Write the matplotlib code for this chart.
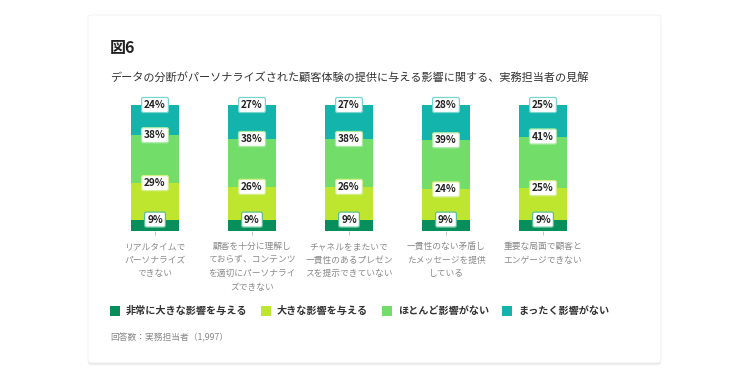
import numpy as np
import matplotlib.pyplot as plt
from matplotlib.patches import FancyBboxPatch, Rectangle

plt.rcParams['font.family'] = ['Noto Sans CJK JP', 'DejaVu Sans']

categories = [
    "リアルタイムで\nパーソナライズ\nできない",
    "顧客を十分に理解し\nておらず、コンテンツ\nを適切にパーソナライ\nズできない",
    "チャネルをまたいで\n一貫性のあるプレゼン\nスを提示できていない",
    "一貫性のない矛盾し\nたメッセージを提供\nしている",
    "重要な局面で顧客と\nエンゲージできない",
]
series_names = ["非常に大きな影響を与える", "大きな影響を与える", "ほとんど影響がない", "まったく影響がない"]
very_large = [9, 9, 9, 9, 9]
large = [29, 26, 26, 24, 25]
little = [38, 38, 38, 39, 41]
none_at_all = [24, 27, 27, 28, 25]

colors = ["#068F5B", "#BEE62F", "#72DD69", "#12B4AC"]
edge_colors = ["#5DBE95", "#D5EE86", "#A6EAA1", "#78D6D0"]

W, H = 750, 379
fig = plt.figure(figsize=(W / 100, H / 100), dpi=100)
fig.patch.set_facecolor("white")

# card with faint shadow
for i, a in enumerate([0.025, 0.035, 0.05]):
    off = 3 - i
    fig.patches.append(FancyBboxPatch((88 / W, (H - 364 - off + 1) / H), 573 / W, 348 / H,
                                      boxstyle="round,pad=0,rounding_size=0.006",
                                      transform=fig.transFigure, facecolor="black",
                                      edgecolor="none", alpha=a, zorder=-3))
fig.patches.append(FancyBboxPatch((88 / W, (H - 363) / H), 573 / W, 348 / H,
                                  boxstyle="round,pad=0,rounding_size=0.006",
                                  transform=fig.transFigure, facecolor="white",
                                  edgecolor="#EFEFEF", linewidth=0.6, zorder=-2))

# axes placement in pixels
left_px, right_px = 107, 590
top_px, bot_px = 105, 231
spacing = 97.0
c0 = 155.0
ax = fig.add_axes([left_px / W, (H - bot_px) / H, (right_px - left_px) / W, (bot_px - top_px) / H])
ax.set_xlim((left_px - c0) / spacing, (right_px - c0) / spacing)
ax.set_ylim(0, 100)
ax.patch.set_alpha(0)
for s in ax.spines.values():
    s.set_visible(False)

x = np.arange(len(categories))
series = [very_large, large, little, none_at_all]
bottom = np.zeros(len(categories))
bw = 48 / spacing
for vals, col, ec in zip(series, colors, edge_colors):
    vals = np.array(vals, dtype=float)
    ax.bar(x, vals, bottom=bottom, width=bw, color=col, edgecolor="none", zorder=2)
    bottom = bottom + vals
    for xi, yi, v in zip(x, bottom, vals):
        ax.text(xi, yi, f"{int(v)}%", ha="center", va="center", fontsize=7.3, fontweight="bold",
                color="#222222", zorder=5, clip_on=False,
                bbox=dict(boxstyle="round,pad=0.25,rounding_size=0.18", facecolor="white",
                          edgecolor=ec, linewidth=0.9))

ax.set_yticks([])
ax.set_xticks(x)
ax.set_xticklabels(categories, fontsize=6.3, color="#8A8A8A", linespacing=1.65, va="top")
ax.tick_params(axis="x", length=3, width=0.6, color="#BBBBBB", pad=5)

fig.text(110 / W, 1 - 48 / H, "図6", fontsize=11.5, fontweight="bold", color="#222222", va="center")
fig.text(110 / W, 1 - 77 / H, "データの分断がパーソナライズされた顧客体験の提供に与える影響に関する、実務担当者の見解",
         fontsize=8.0, color="#333333", va="center")

legend_x = [110, 261, 382, 502]
for lx, name, col in zip(legend_x, series_names, colors):
    fig.patches.append(Rectangle((lx / W, 1 - 316 / H), 10 / W, 10 / H, transform=fig.transFigure,
                                 facecolor=col, edgecolor="none"))
    fig.text((lx + 16) / W, 1 - 311 / H, name, fontsize=7.3, fontweight="bold",
             color="#333333", va="center")

fig.text(110 / W, 1 - 338 / H, "回答数：実務担当者（1,997）", fontsize=6.3, color="#888888", va="center")

fig.savefig("out.png", dpi=100)
